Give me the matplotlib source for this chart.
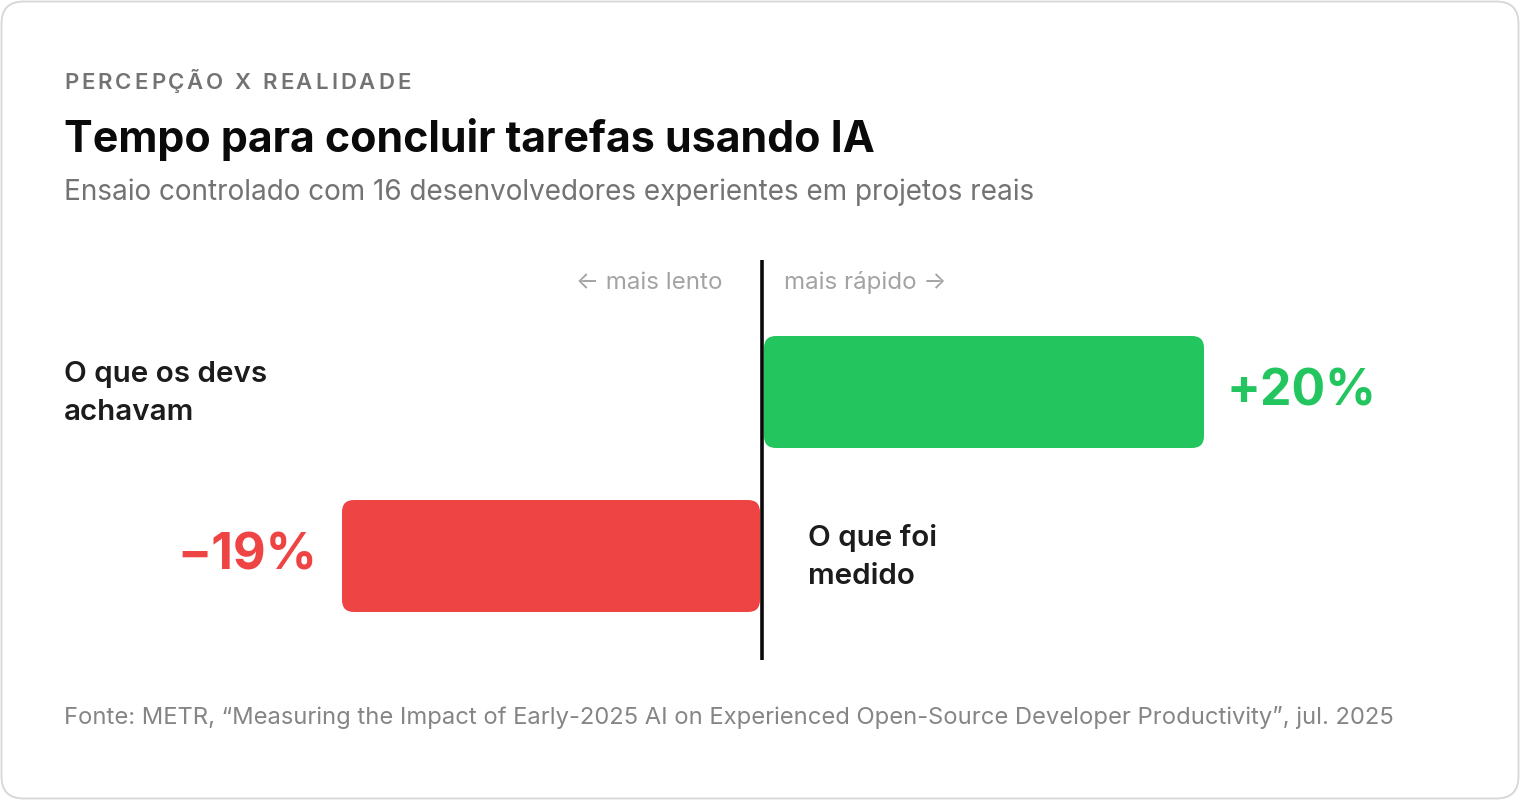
import matplotlib.pyplot as plt
from matplotlib.patches import FancyBboxPatch
from matplotlib.font_manager import FontProperties, findfont, get_font

# datos
categorias = [['O que os devs', 'achavam'], ['O que foi', 'medido']]
valores = [20, -19]
etiquetas = ['+20%', '\u221219%']
colores = ['#22C55E', '#EF4444']

kicker = 'PERCEPÇÃO X REALIDADE'
titulo = 'Tempo para concluir tarefas usando IA'
subtitulo = 'Ensaio controlado com 16 desenvolvedores experientes em projetos reais'
lado_izq = '\u2190 mais lento'
lado_der = 'mais rápido \u2192'
fuente = ('Fonte: METR, \u201cMeasuring the Impact of Early-2025 AI on Experienced '
          'Open-Source Developer Productivity\u201d, jul. 2025')

plt.rcParams['font.family'] = ['Inter', 'DejaVu Sans']

W, H = 1520, 800
fig = plt.figure(figsize=(W / 100, H / 100), dpi=100)
fig.patch.set_facecolor('white')

# marco redondeado
ax_bg = fig.add_axes([0, 0, 1, 1])
ax_bg.set_xlim(0, W)
ax_bg.set_ylim(H, 0)
ax_bg.axis('off')
ax_bg.add_patch(FancyBboxPatch((1.5, 1.5), W - 3, H - 3,
                               boxstyle='round,pad=0,rounding_size=22',
                               facecolor='white', edgecolor='#d6d6d6', linewidth=1.3))

# ejes de barras: cero en x=762 px, 22 px por punto porcentual
px_x = 22.0
px_y = 164.0
x0, y0 = 762.0, 392.0
ax = fig.add_axes([0, 0, 1, 1])
ax.set_xlim(-x0 / px_x, (W - x0) / px_x)
ax.set_ylim((H - y0) / px_y, -y0 / px_y)
ax.axis('off')
ax.patch.set_alpha(0)


def px(x, y):
    return x / W, 1 - y / H


def kicker_espaciado(x, y, s, size, weight, color, ancho):
    # versalitas con letter-spacing, letra a letra
    f = get_font(findfont(FontProperties(family='Inter', weight=weight)))
    f.set_size(size, 100)
    try:
        from matplotlib.ft2font import LoadFlags
        flags = LoadFlags.NO_HINTING
    except ImportError:
        flags = 1
    adv, lsb, wid = [], [], []
    for ch in s:
        g = f.load_char(ord(ch), flags=flags)
        adv.append(g.linearHoriAdvance / 65536)
        lsb.append(g.horiBearingX / 64)
        wid.append(g.width / 64)
    natural = sum(adv[:-1]) + lsb[-1] + wid[-1] - lsb[0]
    espacio = (ancho - natural) / (len(s) - 1)
    origen = x - lsb[0]
    for i, ch in enumerate(s):
        if ch != ' ':
            fig.text(*px(origen + lsb[i], y), ch, ha='left', va='baseline',
                     fontsize=size, fontweight=weight, color=color)
        origen += adv[i] + espacio


alto = 0.683
gap = 2 / px_x
for i, (v, c) in enumerate(zip(valores, colores)):
    x_ini = gap if v > 0 else v - gap
    ax.add_patch(FancyBboxPatch((x_ini, i - alto / 2), abs(v), alto,
                                boxstyle='round,pad=0,rounding_size=%f' % (12 / px_x),
                                mutation_aspect=px_x / px_y,
                                facecolor=c, edgecolor='none', zorder=2))

# eje cero
ax.plot([0, 0], [(260 - y0) / px_y, (660 - y0) / px_y], color='#0a0a0a',
        linewidth=2.6, solid_capstyle='butt', zorder=3)

# etiquetas de valor
for i, (v, lab, c) in enumerate(zip(valores, etiquetas, colores)):
    if v > 0:
        ax.annotate(lab, (v + gap, i), xytext=(16, -9.4), textcoords='offset points',
                    ha='left', va='baseline', fontsize=36, fontweight='bold', color=c)
    else:
        ax.annotate(lab, (v - gap, i), xytext=(-17.5, -9.4), textcoords='offset points',
                    ha='right', va='baseline', fontsize=36.3, fontweight='bold', color=c)

# categorías
estilo_cat = dict(ha='left', va='baseline', fontsize=21.3, fontweight='semibold',
                  color='#1c1c1c')
for j, linea in enumerate(categorias[0]):
    ax.annotate(linea, (-x0 / px_x, 0), xytext=(64 * 0.72, (10 - 38 * j) * 0.72),
                textcoords='offset points', **estilo_cat)
for j, linea in enumerate(categorias[1]):
    ax.annotate(linea, (0, 1), xytext=(46 * 0.72, (10 - 38 * j) * 0.72),
                textcoords='offset points', **estilo_cat)

# textos
kicker_espaciado(64, 89, kicker, 16, 'semibold', '#737373', 344)
fig.text(*px(64, 152), titulo, ha='left', va='baseline', fontsize=30.9,
         fontweight='bold', color='#0a0a0a')
fig.text(*px(64, 200), subtitulo, ha='left', va='baseline', fontsize=20.1,
         color='#737373')
fig.text(*px(722, 289), lado_izq, ha='right', va='baseline', fontsize=17.4,
         color='#a3a3a3')
fig.text(*px(784, 289), lado_der, ha='left', va='baseline', fontsize=17.4,
         color='#a3a3a3')
fig.text(*px(64, 724), fuente, ha='left', va='baseline', fontsize=17.1,
         color='#858585')

fig.savefig('out.png', dpi=100, facecolor='white')
